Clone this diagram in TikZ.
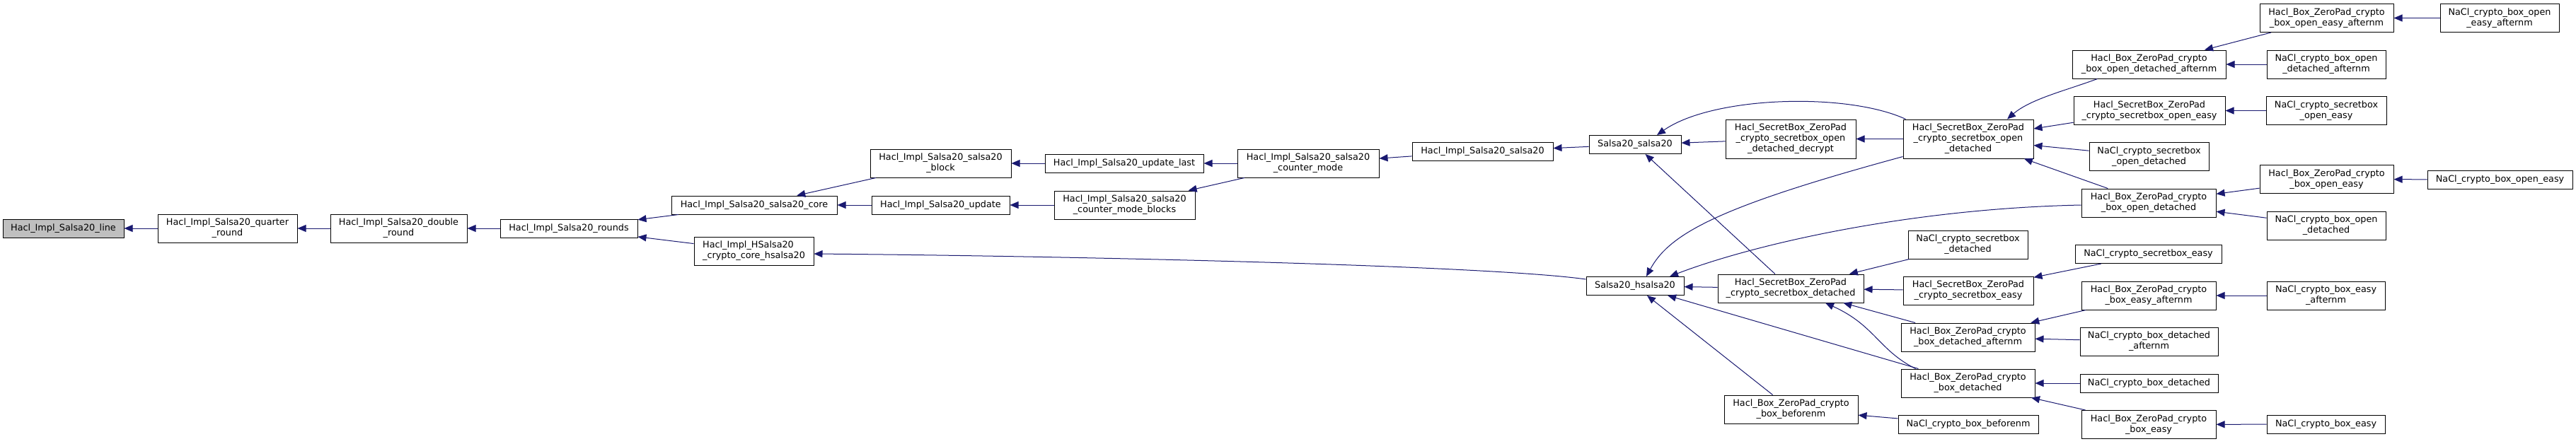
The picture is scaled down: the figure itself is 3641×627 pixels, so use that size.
\documentclass[tikz,border=0pt]{standalone}
\usepackage{fontspec}
\setmainfont{DejaVu Sans}
\usepackage{tikz}
\usetikzlibrary{arrows.meta}
\definecolor{edgeblue}{RGB}{25,25,112}
\definecolor{curgray}{RGB}{191,191,191}
\tikzset{
  fn/.style={
    draw=black, line width=1pt, fill=white, inner sep=0pt, align=center,
    minimum height=26pt, font=\fontsize{12.8}{15}\selectfont
  },
  two/.style={minimum height=40pt},
  three/.style={minimum height=55pt},
  cur/.style={fn, fill=curgray},
  every edge/.style={draw=edgeblue, line width=1pt, -{Triangle[length=12pt,width=10pt]}},
  call/.style={draw=edgeblue, line width=1pt, -{Triangle[length=12pt,width=10pt]}},
}
\begin{document}
\begin{tikzpicture}[x=1pt, y=-1pt]
  \useasboundingbox (0,0) rectangle (3641,627);
  \node[cur, minimum width=171pt] (line) at (89.5,323) {Hacl\_Impl\_Salsa20\_line};
  \node[fn, two, minimum width=197pt] (qround) at (321.5,323) {Hacl\_Impl\_Salsa20\_quarter\\\_round};
  \node[fn, two, minimum width=193pt] (dround) at (563.5,323) {Hacl\_Impl\_Salsa20\_double\\\_round};
  \node[fn, minimum width=194pt] (rounds) at (804,323) {Hacl\_Impl\_Salsa20\_rounds};
  \node[fn, minimum width=234pt] (core) at (1066,290) {Hacl\_Impl\_Salsa20\_salsa20\_core};
  \node[fn, two, align=left, minimum width=169pt] (hcore) at (1065.5,355) {Hacl\_Impl\_HSalsa20\\\_crypto\_core\_hsalsa20};
  \node[fn, two, minimum width=199pt] (block) at (1329.5,231) {Hacl\_Impl\_Salsa20\_salsa20\\\_block};
  \node[fn, minimum width=195pt] (update) at (1329.5,290) {Hacl\_Impl\_Salsa20\_update};
  \node[fn, minimum width=224pt] (ulast) at (1589,231) {Hacl\_Impl\_Salsa20\_update\_last};
  \node[fn, two, minimum width=199pt] (cmblocks) at (1589.5,290) {Hacl\_Impl\_Salsa20\_salsa20\\\_counter\_mode\_blocks};
  \node[fn, two, minimum width=200pt] (cmode) at (1849,231) {Hacl\_Impl\_Salsa20\_salsa20\\\_counter\_mode};
  \node[fn, minimum width=199pt] (isalsa) at (2095.5,214) {Hacl\_Impl\_Salsa20\_salsa20};
  \node[fn, minimum width=130pt] (ssalsa) at (2311,204.5) {Salsa20\_salsa20};
  \node[fn, minimum width=138pt] (hsalsa) at (2311,404.5) {Salsa20\_hsalsa20};
  \node[fn, three, minimum width=184pt] (decrypt) at (2531,196.5) {Hacl\_SecretBox\_ZeroPad\\\_crypto\_secretbox\_open\\\_detached\_decrypt};
  \node[fn, two, minimum width=206pt] (sbdet) at (2531,408) {Hacl\_SecretBox\_ZeroPad\\\_crypto\_secretbox\_detached};
  \node[fn, two, minimum width=189pt] (bbefore) at (2531.5,579) {Hacl\_Box\_ZeroPad\_crypto\\\_box\_beforenm};
  \node[fn, three, minimum width=184pt] (sbopendet) at (2782,196.5) {Hacl\_SecretBox\_ZeroPad\\\_crypto\_secretbox\_open\\\_detached};
  \node[fn, two, minimum width=169pt] (nsbdet) at (2781.5,346) {NaCl\_crypto\_secretbox\\\_detached};
  \node[fn, two, minimum width=184pt] (sbeasy) at (2782,411) {Hacl\_SecretBox\_ZeroPad\\\_crypto\_secretbox\_easy};
  \node[fn, two, minimum width=189pt] (bdetaft) at (2781.5,477) {Hacl\_Box\_ZeroPad\_crypto\\\_box\_detached\_afternm};
  \node[fn, two, minimum width=189pt] (bdet) at (2781.5,542) {Hacl\_Box\_ZeroPad\_crypto\\\_box\_detached};
  \node[fn, minimum width=198pt] (nbbefore) at (2782,600.5) {NaCl\_crypto\_box\_beforenm};
  \node[fn, two, minimum width=217pt] (bopendetaft) at (3037.5,91) {Hacl\_Box\_ZeroPad\_crypto\\\_box\_open\_detached\_afternm};
  \node[fn, two, minimum width=214pt] (sbopeneasy) at (3038,156.5) {Hacl\_SecretBox\_ZeroPad\\\_crypto\_secretbox\_open\_easy};
  \node[fn, two, minimum width=169pt] (nsbopendet) at (3037.5,221.5) {NaCl\_crypto\_secretbox\\\_open\_detached};
  \node[fn, two, minimum width=190pt] (bopendet) at (3037,287) {Hacl\_Box\_ZeroPad\_crypto\\\_box\_open\_detached};
  \node[fn, minimum width=207pt] (nsbeasy) at (3036.5,359.5) {NaCl\_crypto\_secretbox\_easy};
  \node[fn, two, minimum width=190pt] (beasyaft) at (3037,418) {Hacl\_Box\_ZeroPad\_crypto\\\_box\_easy\_afternm};
  \node[fn, two, minimum width=195pt] (nbdetaft) at (3037.5,483) {NaCl\_crypto\_box\_detached\\\_afternm};
  \node[fn, minimum width=195pt] (nbdet) at (3037.5,542) {NaCl\_crypto\_box\_detached};
  \node[fn, two, minimum width=190pt] (beasy) at (3037,600.5) {Hacl\_Box\_ZeroPad\_crypto\\\_box\_easy};
  \node[fn, two, minimum width=189pt] (bopeneasyaft) at (3288.5,25.5) {Hacl\_Box\_ZeroPad\_crypto\\\_box\_open\_easy\_afternm};
  \node[fn, two, minimum width=168pt] (nbopendetaft) at (3288,91) {NaCl\_crypto\_box\_open\\\_detached\_afternm};
  \node[fn, two, minimum width=170pt] (nsbopeneasy) at (3288,156.5) {NaCl\_crypto\_secretbox\\\_open\_easy};
  \node[fn, two, minimum width=189pt] (bopeneasy) at (3288.5,253.5) {Hacl\_Box\_ZeroPad\_crypto\\\_box\_open\_easy};
  \node[fn, two, minimum width=168pt] (nbopendet) at (3288,319) {NaCl\_crypto\_box\_open\\\_detached};
  \node[fn, two, minimum width=167pt] (nbeasyaft) at (3287.5,418) {NaCl\_crypto\_box\_easy\\\_afternm};
  \node[fn, minimum width=167pt] (nbeasy) at (3287.5,600) {NaCl\_crypto\_box\_easy};
  \node[fn, two, minimum width=168pt] (nbopeneasyaft) at (3533,25.5) {NaCl\_crypto\_box\_open\\\_easy\_afternm};
  \node[fn, minimum width=205pt] (nbopeneasy) at (3533.5,254) {NaCl\_crypto\_box\_open\_easy};
  \path (qround) edge (line)
        (dround) edge (qround)
        (rounds) edge (dround)
        (core) edge (rounds)
        (hcore) edge (rounds)
        (block) edge (core)
        (update) edge (core)
        (ulast) edge (block)
        (cmblocks) edge (update)
        (cmode) edge (ulast)
        (cmode) edge (cmblocks)
        (isalsa) edge (cmode)
        (ssalsa) edge (isalsa)
        (decrypt) edge (ssalsa)
        (sbdet) edge (ssalsa)
        (sbopendet) edge (decrypt)
        (sbdet) edge (hsalsa)
        (bdet) edge (hsalsa)
        (bbefore) edge (hsalsa)
        (nsbdet) edge (sbdet)
        (sbeasy) edge (sbdet)
        (bdetaft) edge (sbdet)
        (nbbefore) edge (bbefore)
        (sbopeneasy) edge (sbopendet)
        (nsbopendet) edge (sbopendet)
        (bopendet) edge (sbopendet)
        (nsbeasy) edge (sbeasy)
        (beasyaft) edge (bdetaft)
        (nbdetaft) edge (bdetaft)
        (nbdet) edge (bdet)
        (beasy) edge (bdet)
        (bopeneasyaft) edge (bopendetaft)
        (nbopendetaft) edge (bopendetaft)
        (nsbopeneasy) edge (sbopeneasy)
        (bopeneasy) edge (bopendet)
        (nbopendet) edge (bopendet)
        (nbeasyaft) edge (beasyaft)
        (nbeasy) edge (beasy)
        (nbopeneasyaft) edge (bopeneasyaft)
        (nbopeneasy) edge (bopeneasy);
  \draw[call] ([xshift=4pt]sbopendet.north west) .. controls (2610,130) and (2420,136) .. ([xshift=31pt]ssalsa.north);
  \draw[call] ([yshift=3pt]sbopendet.south west) .. controls (2430,292) and (2360,330) .. ([xshift=16pt]hsalsa.north);
  \draw[call] ([yshift=-3pt]bopendet.west) .. controls (2700,295) and (2480,345) .. ([xshift=49pt]hsalsa.north);
  \draw[call] ([xshift=21pt]bdet.north west) .. controls (2655,495) and (2650,460) .. ([xshift=49pt]sbdet.south);
  \draw[call] ([xshift=36pt]bopendetaft.south west) .. controls (2920,128) and (2870,140) .. ([xshift=55pt]sbopendet.north);
  \draw[call] ([yshift=-4pt]hsalsa.north west) .. controls (2100,375) and (1500,362) .. ([yshift=-4pt]hcore.east);
\end{tikzpicture}
\end{document}
